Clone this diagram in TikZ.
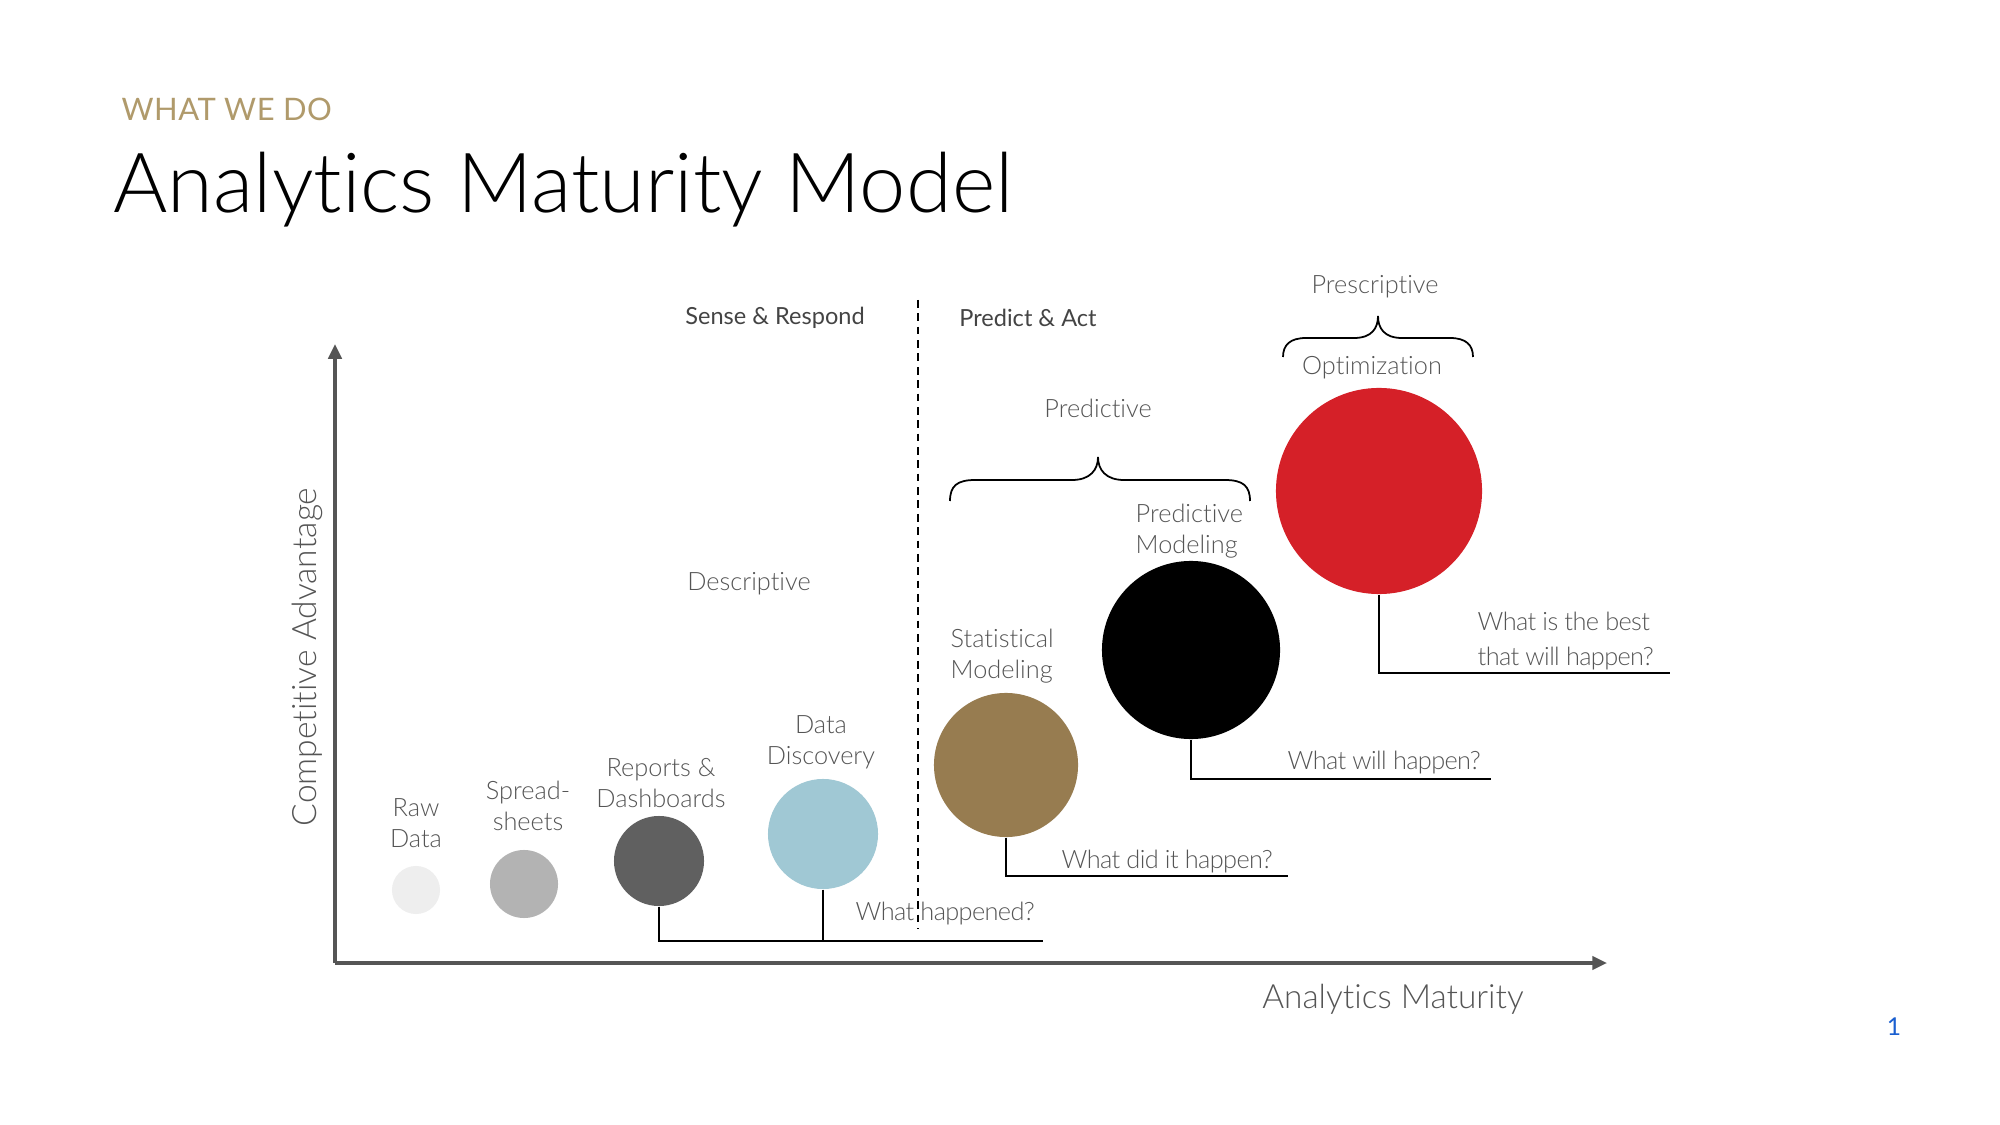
\documentclass[tikz,border=0pt]{standalone}
\usepackage{fontspec}
\setmainfont{Lato}[RawFeature=-liga]
\newfontfamily\lt{Lato Light}[RawFeature=-liga]
\usetikzlibrary{arrows.meta}
\definecolor{gold}{HTML}{B09A6B}
\definecolor{txtgray}{HTML}{555555}
\definecolor{headgray}{HTML}{444444}
\definecolor{axisgray}{HTML}{555555}
\definecolor{cRaw}{HTML}{EEEEEE}
\definecolor{cSpread}{HTML}{B3B3B3}
\definecolor{cReports}{HTML}{606060}
\definecolor{cDisc}{HTML}{A0C8D4}
\definecolor{cStat}{HTML}{977C50}
\definecolor{cPred}{HTML}{000000}
\definecolor{cOpt}{HTML}{D52028}
\definecolor{pageblue}{HTML}{1A5FD0}
\begin{document}
\begin{tikzpicture}[x=0.01cm,y=-0.01cm,
  lbl/.style={font=\lt\fontsize{7.2}{8.7}\selectfont, text=txtgray, align=center, inner sep=0pt},
  lblL/.style={lbl, align=left, anchor=west},
  qlbl/.style={lblL, font=\lt\fontsize{7.2}{8.7}\selectfont\addfontfeatures{LetterSpace=-2.5}},
  head/.style={font=\fontsize{6.7}{8}\selectfont, text=headgray, inner sep=0pt},
  bubble/.style={circle, inner sep=0pt, draw=none},
  conn/.style={draw=black, line width=0.55pt},
  axis/.style={draw=axisgray, line width=0.9pt, -{Triangle[length=4.2pt,width=3.8pt]}},
  bracestyle/.style={draw=black, line width=0.5pt}]
\useasboundingbox[fill=white] (0,0) rectangle (2000,1125);

% titles
\node[anchor=base west, inner sep=0pt, text=gold, font=\fontsize{8.8}{10}\selectfont\addfontfeatures{LetterSpace=1.5}] (kicker) at (121,121) {WHAT WE DO};
\node[anchor=base west, inner sep=0pt, font=\lt\fontsize{23.6}{28}\selectfont] (title) at (113,213) {Analytics Maturity Model};

% axes
\coordinate (origin) at (335,963);
\coordinate (ytip) at (335,344);
\coordinate (xtip) at (1607,963);
\draw[axis] (origin) -- (ytip);
\draw[axis] (origin) -- (xtip);
\node[lbl, rotate=90, font=\lt\fontsize{9.55}{11}\selectfont] (ylab) at (307,657) {Competitive Advantage};
\node[lbl, font=\lt\fontsize{9.5}{11}\selectfont] (xlab) at (1393,999) {Analytics Maturity};

% headings
\node[head] (sense) at (775,318) {Sense \& Respond};
\node[head] (predact) at (1028,318) {Predict \& Act};
\coordinate (dtop) at (918,300);
\coordinate (dbot) at (918,929);

% category labels
\node[lbl] (descr) at (749,584) {Descriptive};
\node[lbl] (predictive) at (1098,408) {Predictive};
\node[lbl] (prescr) at (1375,287) {Prescriptive};
\node[lbl] (optim) at (1372,368) {Optimization};

% braces
\draw[bracestyle] (950,501) .. controls (950,486) and (957,480) .. (975,480) -- (1072,480)
  .. controls (1090,480) and (1098,470) .. (1098,457)
  .. controls (1098,470) and (1106,480) .. (1124,480) -- (1225,480)
  .. controls (1243,480) and (1250,486) .. (1250,501);
\draw[bracestyle] (1283,357) .. controls (1283,345) and (1290,338) .. (1306,338) -- (1354,338)
  .. controls (1372,338) and (1378,328) .. (1378,316)
  .. controls (1378,328) and (1384,338) .. (1402,338) -- (1450,338)
  .. controls (1466,338) and (1473,345) .. (1473,357);

% bubbles
\node[bubble, fill=cRaw, minimum size=0.48cm] (raw) at (416,890) {};
\node[bubble, fill=cSpread, minimum size=0.68cm] (spread) at (524,884) {};
\node[bubble, fill=cReports, minimum size=0.90cm] (reports) at (659,861) {};
\node[bubble, fill=cDisc, minimum size=1.10cm] (disc) at (823,834) {};
\node[bubble, fill=cStat, minimum size=1.44cm] (stat) at (1006,765) {};
\node[bubble, fill=cPred, minimum size=1.78cm] (pred) at (1191,650) {};
\node[bubble, fill=cOpt, minimum size=2.06cm] (opt) at (1379,491) {};

% bubble labels
\node[lbl] (rawl) at (416,823) {Raw\\Data};
\node[lbl] (spreadl) at (528,806) {Spread-\\sheets};
\node[lbl] (reportsl) at (661,783) {Reports \&\\Dashboards};
\node[lbl] (discl) at (821,742) {Data\\Discovery};
\node[lblL] (statl) at (950,656) {Statistical\\Modeling};
\node[lblL] (predl) at (1135,531) {Predictive\\Modeling};

% questions
\node[qlbl] (q1) at (855,914) {What happened?};
\node[qlbl] (q2) at (1061,862) {What did it happen?};
\node[qlbl] (q3) at (1287,763) {What will happen?};
\node[qlbl, font=\lt\fontsize{7.2}{10.2}\selectfont\addfontfeatures{LetterSpace=-2.5}] (q4) at (1477,641) {What is the best\\that will happen?};

% connectors
\coordinate (e1) at (1043,941);
\coordinate (e2) at (1288,876);
\coordinate (e3) at (1491,779);
\coordinate (e4) at (1670,673);
\draw[conn] (reports.south) |- (e1);
\draw[conn] (disc.south) -- (disc.south |- e1);
\draw[conn] (stat.south) |- (e2);
\draw[conn] (pred.south) |- (e3);
\draw[conn] (opt.south) |- (e4);

% dashed divider
\draw[black, line width=0.5pt, dash pattern=on 2.2pt off 1.6pt] (dtop) -- (dbot);

% page number
\node[inner sep=0pt, text=pageblue, font=\fontsize{7}{8}\selectfont] (pnum) at (1894,1027) {1};
\end{tikzpicture}
\end{document}
